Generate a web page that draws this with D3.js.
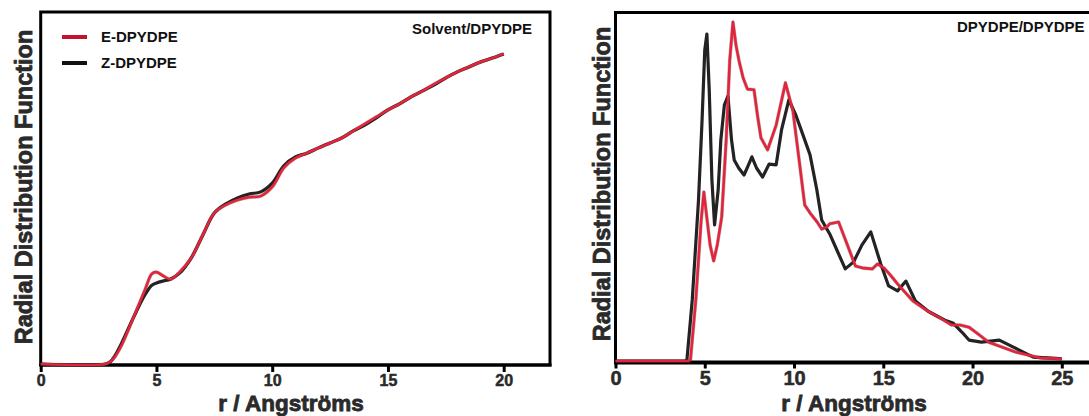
<!DOCTYPE html>
<html>
<head>
<meta charset="utf-8">
<script src="https://cdn.jsdelivr.net/npm/d3@7"></script>
<style>
  html, body { margin: 0; padding: 0; background: #fff; }
  svg { display: block; font-family: "Liberation Sans", Arial, sans-serif; }
</style>
</head>
<body>
<svg id="chart" width="1089" height="416"></svg>
<script>
// ---------- data ----------
const seriesNames = ["E-DPYDPE", "Z-DPYDPE"];
const panelTitles = ["Solvent/DPYDPE", "DPYDPE/DPYDPE"];
const leftTicks = [0, 5, 10, 15, 20];
const rightTicks = [0, 5, 10, 15, 20, 25];

// Left panel: Solvent/DPYDPE (arbitrary units, 0-100)
const leftR = [0, 2.8, 3.0, 3.2, 3.5, 4.0, 4.5, 4.8, 5.0, 5.3, 5.6, 6.0, 6.5, 7.0, 7.5, 8.0, 8.5, 9.0, 9.5, 10.0,
               10.5, 11, 11.5, 12, 12.5, 13, 13.5, 14, 14.5, 15, 15.5, 16, 16.5, 17, 17.5, 18, 18.5, 19, 19.5, 20];
const leftE = [0, 0, 0.6, 2.0, 5.4, 13.1, 21.0, 25.6, 26.1, 25.0, 24.1, 26.1, 30.1, 36.6, 42.9, 45.2, 46.6, 47.4, 47.7, 50.3,
               55.7, 58.5, 59.9, 61.4, 62.8, 64.2, 66.2, 68.2, 70.2, 72.2, 73.9, 75.9, 77.6, 79.5, 81.3, 83.0, 84.4, 85.8, 86.9, 88.1];
const leftZ = [0, 0, 0.6, 2.3, 6.0, 13.1, 19.6, 22.4, 23.0, 23.6, 24.1, 25.8, 30.1, 36.6, 42.9, 45.5, 47.2, 48.3, 48.9, 51.4,
               56.3, 58.8, 59.9, 61.4, 62.8, 64.2, 66.2, 67.9, 69.9, 72.2, 73.9, 75.9, 77.6, 79.3, 81.3, 83.0, 84.4, 85.8, 86.9, 88.1];

// Right panel: DPYDPE/DPYDPE (arbitrary units, 0-100)
const rightZR = [0, 3.9, 4.0, 4.3, 4.65, 4.85, 5.0, 5.12, 5.25, 5.4, 5.55, 5.75, 5.9, 6.1, 6.3, 6.5, 6.65, 6.9, 7.2, 7.45,
                 7.64, 7.9, 8.24, 8.6, 9.0, 9.3, 9.71, 10.1, 10.5, 10.9, 11.27, 11.55, 12.0, 12.4, 12.87, 13.34, 13.8, 14.3, 14.86, 15.3,
                 15.8, 16.27, 16.8, 17.5, 18.0, 18.45, 18.9, 19.4, 19.8, 20.5, 21.5, 22.4, 23.4, 24.2, 25];
const rightZ  = [0, 0, 0.3, 17.5, 46.1, 69.1, 89.1, 93.7, 77.7, 51.9, 39.0, 49.0, 63.3, 73.4, 75.9, 63.3, 57.6, 55.3, 53.3, 56.2,
                 58.5, 55.3, 52.7, 56.4, 56.2, 66.2, 74.8, 70.5, 64.8, 59.0, 49.3, 40.4, 36.4, 31.8, 26.4, 28.4, 33.2, 37.0, 27.8, 21.5,
                 20.1, 22.9, 17.2, 14.3, 12.9, 11.7, 10.9, 8.3, 6.0, 5.4, 6.0, 3.7, 1.1, 0.9, 0.6];
const rightER = [0, 4.1, 4.2, 4.5, 4.8, 4.95, 5.1, 5.3, 5.5, 5.7, 5.95, 6.2, 6.4, 6.58, 6.75, 6.92, 7.15, 7.39, 7.76, 7.95,
                 8.15, 8.52, 9.0, 9.52, 9.94, 10.32, 10.6, 10.9, 11.3, 11.55, 11.83, 12.0, 12.5, 12.97, 13.44, 13.9, 14.39, 14.67, 15.05, 15.4,
                 15.8, 16.2, 16.66, 17.5, 18.2, 18.83, 19.3, 19.8, 20.4, 20.9, 22.4, 23.75, 25];
const rightE  = [0, 0, 0.3, 17.5, 40.4, 48.4, 41.8, 33.2, 28.7, 33.2, 41.3, 63.3, 86.2, 97.1, 90.5, 86.0, 81.1, 77.9, 77.7, 70.5,
                 63.9, 60.5, 67.6, 79.7, 71.6, 56.2, 44.7, 42.4, 39.8, 37.8, 38.4, 39.3, 39.8, 33.5, 27.2, 26.6, 26.4, 27.8, 26.6, 24.6,
                 22.1, 19.8, 17.2, 14.3, 12.3, 10.3, 10.3, 9.7, 7.4, 5.4, 2.6, 0.9, 0.6];

// ---------- styles ----------
const RED = "#e5243b", RED_LEG = "#c3122b", BLACK = "#232323", TXT = "#2a2a2a";

const svg = d3.select("#chart");

function drawPanel(cfg) {
  const x = d3.scaleLinear().domain(cfg.xDomain).range([cfg.x0, cfg.x1]);
  const y = d3.scaleLinear().domain([0, 100]).range([cfg.yBase, cfg.yTop]);
  const g = svg.append("g");

  // frame
  g.append("rect")
    .attr("x", cfg.x0).attr("y", cfg.frameTop)
    .attr("width", cfg.x1 - cfg.x0).attr("height", cfg.frameBottom - cfg.frameTop)
    .attr("fill", "none").attr("stroke", "#000").attr("stroke-width", 3);
  g.append("line")
    .attr("x1", cfg.x0 - 1.5).attr("x2", cfg.x1 + 1.5)
    .attr("y1", cfg.frameBottom).attr("y2", cfg.frameBottom)
    .attr("stroke", "#000").attr("stroke-width", cfg.axisW);

  // x axis ticks
  const ax = g.append("g")
    .attr("transform", `translate(0,${cfg.frameBottom})`)
    .call(d3.axisBottom(x).tickValues(cfg.ticks).tickSizeOuter(0).tickSize(cfg.tickLen).tickPadding(cfg.tickPad));
  ax.select(".domain").remove();
  ax.selectAll(".tick line").attr("stroke", "#000").attr("stroke-width", 3);
  ax.selectAll(".tick text")
    .attr("fill", TXT).attr("font-size", cfg.tickFont).attr("font-weight", "bold")
    .attr("stroke", TXT).attr("stroke-width", 0.5)
    .attr("font-family", "Liberation Sans, Arial, sans-serif");

  // lines
  const line = d3.line().x(d => x(d[0])).y(d => y(d[1])).curve(cfg.curve);
  const zData = cfg.zR.map((r, i) => [r, cfg.zV[i]]);
  const eData = cfg.eR.map((r, i) => [r, cfg.eV[i]]);
  g.append("path").datum(zData).attr("d", line)
    .attr("fill", "none").attr("stroke", BLACK).attr("stroke-width", 3.2)
    .attr("stroke-linejoin", "round");
  g.append("path").datum(eData).attr("d", line)
    .attr("fill", "none").attr("stroke", "#3a2a2a").attr("stroke-width", 3.6).attr("stroke-opacity", 0.35)
    .attr("stroke-linejoin", "round");
  g.append("path").datum(eData).attr("d", line)
    .attr("fill", "none").attr("stroke", RED).attr("stroke-width", 2.6)
    .attr("stroke-linejoin", "round");

  // axis titles
  g.append("text")
    .attr("x", cfg.xLabelX).attr("y", 410.5)
    .attr("text-anchor", "middle")
    .attr("font-size", 22.5).attr("font-weight", "bold")
    .attr("fill", TXT).attr("stroke", TXT).attr("stroke-width", 0.8)
    .text("r / Angströms");
  g.append("text")
    .attr("transform", `translate(${cfg.yLabelX},${cfg.yLabelY}) rotate(-90)`)
    .attr("text-anchor", "middle")
    .attr("font-size", 23.5).attr("font-weight", "bold")
    .attr("fill", TXT).attr("stroke", TXT).attr("stroke-width", 0.8)
    .text("Radial Distribution Function");

  // panel title
  g.append("text")
    .attr("x", cfg.titleX).attr("y", cfg.titleY)
    .attr("text-anchor", cfg.titleAnchor)
    .attr("font-size", 15).attr("font-weight", "bold").attr("fill", "#111")
    .text(cfg.title);
  return g;
}

drawPanel({
  xDomain: [0, 22], x0: 40.7, x1: 550,
  yBase: 364, yTop: 12, frameTop: 12, frameBottom: 365, axisW: 3,
  ticks: leftTicks, tickLen: 7, tickPad: 3, tickFont: 16,
  zR: leftR, zV: leftZ, eR: leftR, eV: leftE, curve: d3.curveCatmullRom,
  xLabelX: 291, yLabelX: 32, yLabelY: 187,
  title: panelTitles[0], titleX: 532, titleY: 33.5, titleAnchor: "end"
});

drawPanel({
  xDomain: [0, 27], x0: 615.5, x1: 1097.5,
  yBase: 361, yTop: 12, frameTop: 12.5, frameBottom: 362.5, axisW: 4,
  ticks: rightTicks, tickLen: 6, tickPad: 2, tickFont: 20,
  zR: rightZR, zV: rightZ, eR: rightER, eV: rightE, curve: d3.curveLinear,
  xLabelX: 854, yLabelX: 610, yLabelY: 184,
  title: panelTitles[1], titleX: 957, titleY: 32, titleAnchor: "start"
});

// legend (left panel)
const legend = svg.append("g");
const legColors = [RED_LEG, "#111"];
const legY = [37, 63];
seriesNames.forEach((name, i) => {
  legend.append("line")
    .attr("x1", 62).attr("x2", 87).attr("y1", legY[i]).attr("y2", legY[i])
    .attr("stroke", legColors[i]).attr("stroke-width", 4);
  legend.append("text")
    .attr("x", 101).attr("y", legY[i] + 5)
    .attr("font-size", 15).attr("font-weight", "bold").attr("fill", "#111")
    .text(name);
});
</script>
</body>
</html>
